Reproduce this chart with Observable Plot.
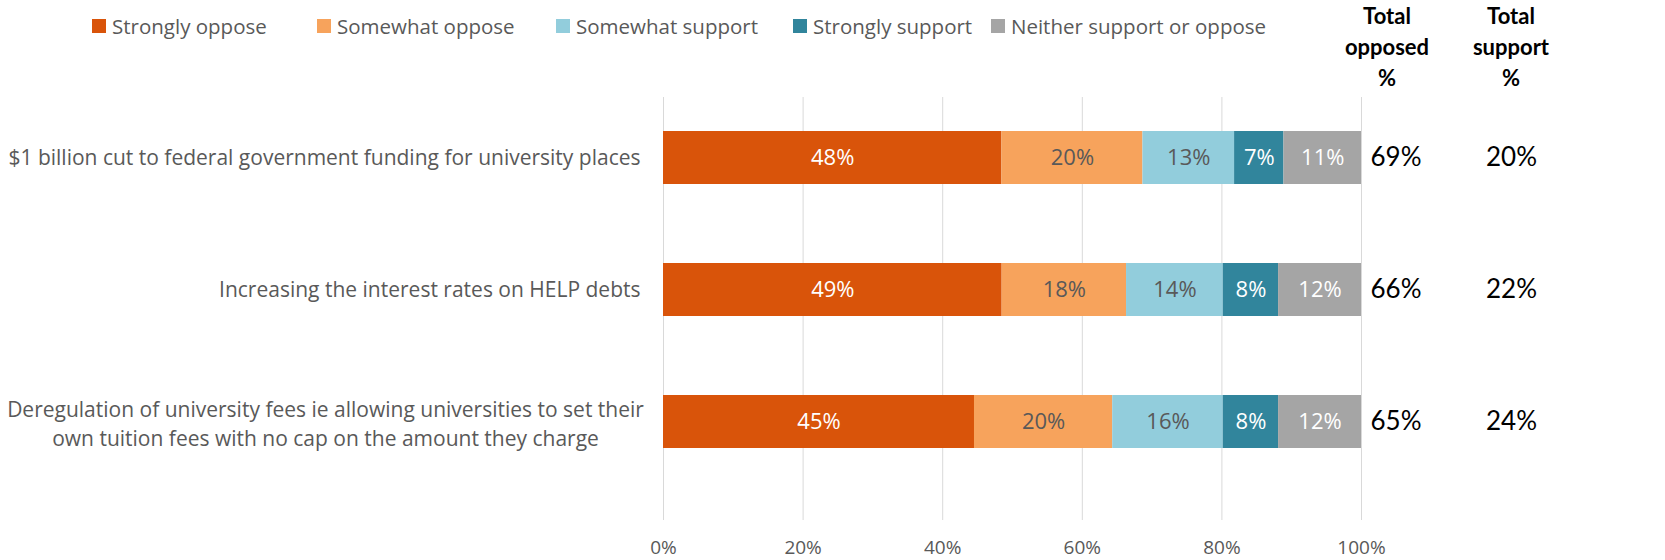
<!DOCTYPE html>
<html><head><meta charset="utf-8">
<script src="https://cdn.jsdelivr.net/npm/d3@7"></script>
<script src="https://cdn.jsdelivr.net/npm/@observablehq/plot@0.6"></script>
<style>
body{margin:0;background:#fff;font-family:"Open Sans",sans-serif;}
#wrap{width:1665px;}
#topbar{position:relative;height:95px;}
.item{position:absolute;top:12px;display:flex;align-items:center;font-size:20.5px;color:#595959;white-space:nowrap;}
.sw{width:14px;height:14px;margin-right:6px;display:inline-block;}
.hdr{position:absolute;top:0;width:120px;font-family:Lato,sans-serif;font-weight:bold;font-size:22px;line-height:31px;text-align:center;color:#000;}
</style>
</head><body>
<div id="wrap">
  <div id="topbar"></div>
  <div id="chart"></div>
</div>
<script>
const questions = [
  "$1 billion cut to federal government funding for university places",
  "Increasing the interest rates on HELP debts",
  "Deregulation of university fees ie allowing universities to set their\nown tuition fees with no cap on the amount they charge"
];
const series = ["Strongly oppose","Somewhat oppose","Somewhat support","Strongly support","Neither support or oppose"];
const seriesColors = ["#D9540A","#F7A35C","#92CDDC","#31859C","#A5A5A5"];
const labelColors = ["#ffffff","#595959","#595959","#ffffff","#ffffff"];
const stronglyOppose = [48,49,45];
const somewhatOppose = [20,18,20];
const somewhatSupport = [13,14,16];
const stronglySupport = [7,8,8];
const neither = [11,12,12];
const totalOpposed = [69,66,65];
const totalSupport = [20,22,24];
const xTicks = [0,0.2,0.4,0.6,0.8,1];
const legendLeft = [92,317,556,793,991];
const headers = [{text:"Total<br>opposed<br>%", center:1387},{text:"Total<br>support<br>%", center:1511}];

const seriesValues = [stronglyOppose, somewhatOppose, somewhatSupport, stronglySupport, neither];
const data = [];
questions.forEach((q,i)=>series.forEach((s,j)=>data.push({question:q, series:s, value:seriesValues[j][i]})));
const totals = questions.map((q,i)=>({question:q, opposed:totalOpposed[i], support:totalSupport[i]}));

// legend + column headers
const topBar = document.getElementById("topbar");
series.forEach((s,i)=>{
  const it = document.createElement("div"); it.className="item";
  it.style.left = legendLeft[i] + "px";
  it.innerHTML = `<span class="sw" style="background:${seriesColors[i]}"></span><span>${s}</span>`;
  topBar.appendChild(it);
});
headers.forEach(h=>{
  const d = document.createElement("div"); d.className="hdr";
  d.style.left = (h.center-60)+"px"; d.innerHTML = h.text; topBar.appendChild(d);
});

const stackOpts = {x:"value", y:"question", z:"series", order:series, offset:"normalize"};
const labelMark = (col) => Plot.text(data, Plot.stackX({...stackOpts,
  text: d => labelColors[series.indexOf(d.series)] === col ? d.value + "%" : "",
  fill: col, fontSize: 22, fontFamily: "Open Sans"}));

const chart = Plot.plot({
  width: 1665, height: 465,
  marginLeft: 663, marginRight: 304, marginTop: 2, marginBottom: 40,
  style: {fontFamily: "Open Sans", background: "white"},
  x: {domain:[0,1]},
  y: {domain: questions, range:[35,353], paddingInner:0.6, paddingOuter:0},
  color: {domain: series, range: seriesColors},
  marks: [
    Plot.gridX({ticks: xTicks, stroke:"#d9d9d9", strokeOpacity:1}),
    Plot.axisX({ticks: xTicks, tickFormat: d3.format(".0%"), tickSize:0, tickPadding:20, fontSize:19, color:"#595959", label:null}),
    Plot.axisY({tickFormat: d => d.includes("\n") ? "" : d, tickSize:0, tickPadding:23, fontSize:21, color:"#595959", label:null}),
    Plot.text(questions, {filter: d => d.includes("\n"), y: d => d, text: d => d, frameAnchor:"left", dx:-338, textAnchor:"middle", lineHeight:1.4, fontSize:21, fill:"#595959"}),
    Plot.barX(data, Plot.stackX({...stackOpts, fill:"series"})),
    labelMark("#ffffff"),
    labelMark("#595959"),
    Plot.text(totals, {y:"question", text: d => d.opposed + "%", frameAnchor:"right", textAnchor:"start", dx:9, fontSize:26, fontFamily:"Lato", fill:"#000"}),
    Plot.text(totals, {y:"question", text: d => d.support + "%", frameAnchor:"right", textAnchor:"middle", dx:150, fontSize:26, fontFamily:"Lato", fill:"#000"})
  ]
});
document.getElementById("chart").appendChild(chart);
</script>
</body></html>
